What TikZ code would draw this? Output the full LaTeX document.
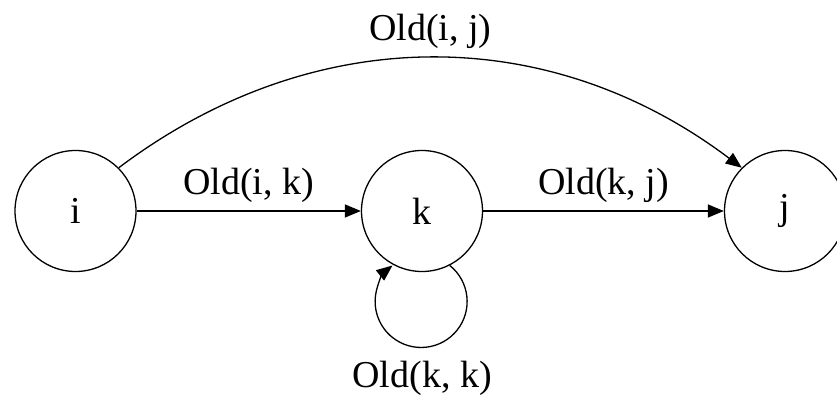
\documentclass[tikz,border=0pt]{standalone}
\usepackage{fontspec}
\setmainfont{Liberation Serif}
\usetikzlibrary{arrows.meta}

\begin{document}
\begin{tikzpicture}[x=1pt,y=1pt,
  state/.style={circle,draw,line width=1.3pt,minimum size=121pt,inner sep=0pt,font=\fontsize{38}{40}\selectfont},
  link/.style={line width=1.3pt,-{Triangle[length=16pt,width=13pt]}},
  lbl/.style={font=\fontsize{38}{40}\selectfont,inner sep=1pt}]
\useasboundingbox (0,0) rectangle (837,398);
\node[state] (i) at (75.5,187) {i};
\node[state] (k) at (422,187) {k};
\node[state] (j) at (785,187) {j};
\draw[link] (i) -- node[lbl,above=7pt] {Old(i, k)} (k);
\draw[link] (k) -- node[lbl,above=7pt] {Old(k, j)} (j);
\draw[link] (i.45) to[out=37,in=143] node[lbl,above=8pt] {Old(i, j)} (j.135);
\draw[link] (k.-63) arc[start angle=51.5,end angle=-231.5,radius=46pt];
\node[lbl,anchor=base] (kk) at (422,10) {Old(k, k)};
\end{tikzpicture}
\end{document}
